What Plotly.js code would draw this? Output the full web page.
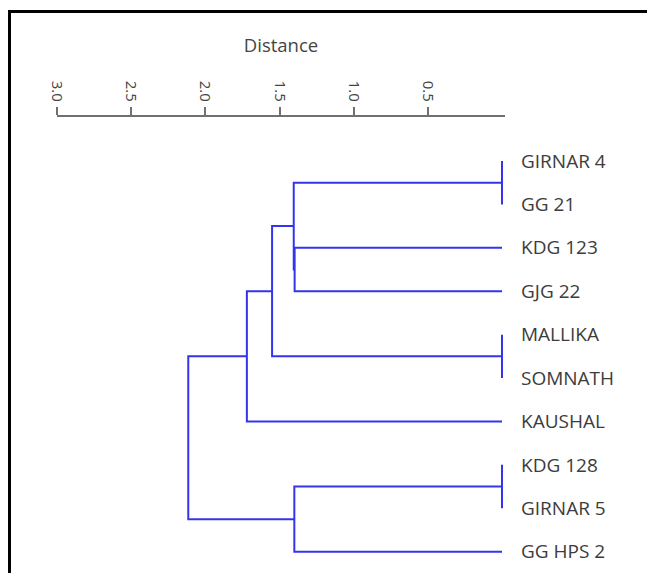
<!DOCTYPE html>
<html>
<head>
<meta charset="utf-8">
<script src="https://cdn.plot.ly/plotly-3.0.1.min.js"></script>
<style>
html,body{margin:0;padding:0;background:#fff;overflow:hidden;width:647px;height:573px;}
#wrap{position:relative;width:647px;height:573px;overflow:hidden;}
#chart{position:absolute;left:0;top:0;width:647px;height:573px;}
#frame{position:absolute;left:8px;top:10px;width:700px;height:700px;border-left:3px solid #000;border-top:3px solid #000;pointer-events:none;}
</style>
</head>
<body>
<div id="wrap"><div id="chart"></div><div id="frame"></div></div>
<script>
// Leaves in display order (top to bottom)
const leaves = ['GIRNAR 4','GG 21','KDG 123','GJG 22','MALLIKA','SOMNATH','KAUSHAL','KDG 128','GIRNAR 5','GG HPS 2'];
// Merges: node ids 0..9 are leaves, merge k gets id 10+k
const mergeLeft  = [0, 4, 7, 2, 10, 14, 15, 12, 16];
const mergeRight = [1, 5, 8, 3, 13, 11,  6,  9, 17];
const mergeDist  = [0.0, 0.0, 0.0, 1.398, 1.404, 1.55, 1.72, 1.40, 2.115];
// Axis ticks
const tickVals = [3.0, 2.5, 2.0, 1.5, 1.0, 0.5];
const tickText = ['3.0', '2.5', '2.0', '1.5', '1.0', '0.5'];

// Build dendrogram links
const nodeY = leaves.map((_, i) => i);
const nodeD = leaves.map(() => 0);
const xs = [], ys = [];
for (let k = 0; k < mergeLeft.length; k++) {
  const a = mergeLeft[k], b = mergeRight[k], d = mergeDist[k];
  const ya = nodeY[a], yb = nodeY[b];
  xs.push(nodeD[a], d, d, nodeD[b], null);
  ys.push(ya, ya, yb, yb, null);
  nodeY.push((ya + yb) / 2);
  nodeD.push(d);
}

const trace = {
  type: 'scatter', mode: 'lines', x: xs, y: ys,
  line: {color: '#3434ee', width: 2},
  hoverinfo: 'skip', showlegend: false
};

// geometry: x=3 at 57px, x=0 at 502px; plot area extended 3px past 0
const pxPerUnit = (502 - 57) / 3;
const xEnd = -3 / pxPerUnit;
// plot area y from 117 to 573; leaf 0 at 161, step 43.41
const step = 43.41;
const yTop = -(161 - 117) / step;
const yBot = yTop + (573 - 117) / step;

const layout = {
  width: 647, height: 573,
  margin: {l: 57, r: 647 - 505, t: 117, b: 0, pad: 0},
  paper_bgcolor: '#fff', plot_bgcolor: '#fff',
  font: {family: 'Open Sans, sans-serif', color: '#444'},
  xaxis: {
    side: 'top', range: [3, xEnd], tickvals: tickVals, ticktext: tickText,
    tickangle: 90, ticks: 'outside', ticklen: 8, tickwidth: 2, tickcolor: '#707070',
    showline: true, linecolor: '#707070', linewidth: 2,
    showgrid: false, zeroline: false,
    tickfont: {size: 15, color: '#444'},
    title: {text: 'Distance', font: {size: 18.5, color: '#444'}, standoff: 23},
    automargin: false
  },
  yaxis: {
    side: 'right', range: [yBot, yTop], tickvals: leaves.map((_, i) => i), ticktext: leaves,
    ticks: '', showline: false, showgrid: false, zeroline: false,
    tickfont: {size: 19, color: '#3c3c3c'}, ticklabelstandoff: 15,
    automargin: false
  }
};

Plotly.newPlot('chart', [trace], layout, {staticPlot: true, displayModeBar: false});
</script>
</body>
</html>
